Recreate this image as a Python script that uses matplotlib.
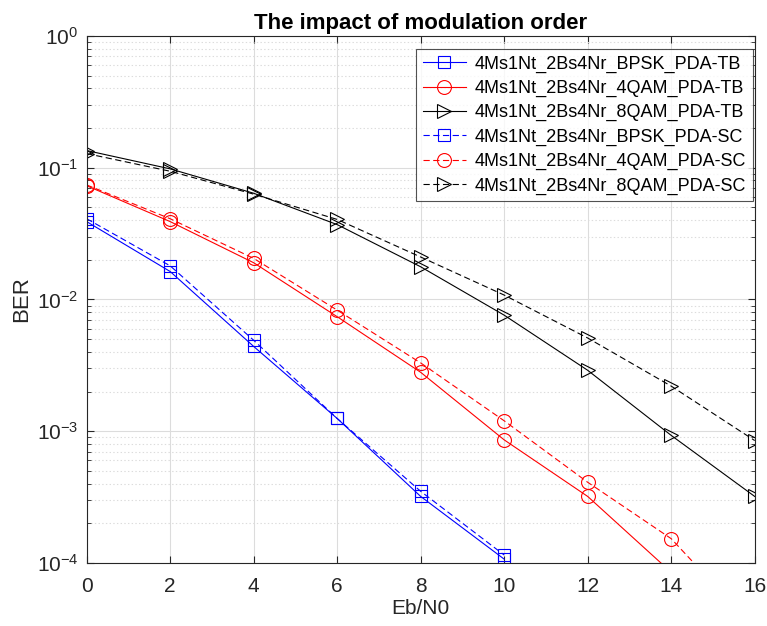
import matplotlib
matplotlib.use("Agg")
import matplotlib.pyplot as plt
from matplotlib.ticker import LogLocator, NullFormatter

plt.rcParams["font.family"] = ["Liberation Sans", "DejaVu Sans"]
plt.rcParams["mathtext.fontset"] = "custom"
plt.rcParams["mathtext.rm"] = "Liberation Sans"
plt.rcParams["lines.scale_dashes"] = False

# Eb/N0 points (dB)
ebn0 = [0, 2, 4, 6, 8, 10, 12, 14, 16]

# BER (values below 1e-4 are clipped by the axes)
bpsk_tb = [0.039, 0.0163, 0.0044, 0.00125, 0.00032, 0.000107]
bpsk_sc = [0.041, 0.018, 0.0049, 0.00125, 0.00035, 0.000115]
qam4_tb = [0.073, 0.039, 0.019, 0.0074, 0.0028, 0.00086, 0.00032, 0.000085]
qam4_sc = [0.074, 0.041, 0.0205, 0.0083, 0.0033, 0.0012, 0.00041, 0.000153, 0.000032]
qam8_tb = [0.135, 0.098, 0.064, 0.037, 0.0177, 0.0076, 0.0029, 0.00093, 0.00032]
qam8_sc = [0.128, 0.094, 0.063, 0.0405, 0.021, 0.0108, 0.0051, 0.0022, 0.00085]

series = [
    ("4Ms1Nt_2Bs4Nr_BPSK_PDA-TB", bpsk_tb, "b", "-", "s"),
    ("4Ms1Nt_2Bs4Nr_4QAM_PDA-TB", qam4_tb, "r", "-", "o"),
    ("4Ms1Nt_2Bs4Nr_8QAM_PDA-TB", qam8_tb, "k", "-", ">"),
    ("4Ms1Nt_2Bs4Nr_BPSK_PDA-SC", bpsk_sc, "b", "--", "s"),
    ("4Ms1Nt_2Bs4Nr_4QAM_PDA-SC", qam4_sc, "r", "--", "o"),
    ("4Ms1Nt_2Bs4Nr_8QAM_PDA-SC", qam8_sc, "k", "--", ">"),
]

fig = plt.figure(figsize=(7.67, 6.26), dpi=100)
ax = fig.add_axes([0.113, 0.1006, 0.871, 0.842])

for label, ber, col, ls, mk in series:
    size = 8 if mk == "s" else 10
    line, = ax.semilogy(ebn0[:len(ber)], ber, color=col, linestyle=ls, marker=mk,
                        markersize=size, markerfacecolor="none", linewidth=0.8,
                        markeredgewidth=0.8, label=label)
    if ls == "--":
        line.set_dashes((4.5, 2.5))

ax.set_xlim(0, 16)
ax.set_ylim(1e-4, 1)
ax.set_xticks(range(0, 17, 2))
ax.yaxis.set_major_locator(LogLocator(base=10, numticks=10))
ax.yaxis.set_minor_locator(LogLocator(base=10, subs=range(2, 10), numticks=10))
ax.yaxis.set_minor_formatter(NullFormatter())

ax.grid(True, which="major", color="#dcdcdc", linewidth=0.8)
ax.grid(True, which="minor", axis="y", color="#dcdcdc", linestyle=":", linewidth=0.8)
ax.set_axisbelow(True)

ax.tick_params(which="both", direction="in", top=True, right=True,
               labelsize=15, colors="#262626")
ax.tick_params(which="major", length=5)
ax.tick_params(which="minor", length=3)
ax.tick_params(axis="x", pad=10)
ax.tick_params(axis="y", pad=6)
for s in ax.spines.values():
    s.set_color("#262626")
    s.set_linewidth(0.8)

ax.set_xlabel("Eb/N0", fontsize=15, color="#262626", labelpad=2)
ax.set_ylabel("BER", fontsize=16, color="#262626", labelpad=3)
ax.set_title("The impact of modulation order", fontsize=16, fontweight="bold", pad=5)

leg = ax.legend(loc="upper right", bbox_to_anchor=(0.997, 0.975), borderaxespad=0,
                fontsize=13, frameon=True, fancybox=False, edgecolor="#262626",
                handlelength=2.4, labelspacing=0.4, borderpad=0.35, handletextpad=0.5)
leg.get_frame().set_linewidth(0.8)

fig.savefig("out.png", dpi=100)
